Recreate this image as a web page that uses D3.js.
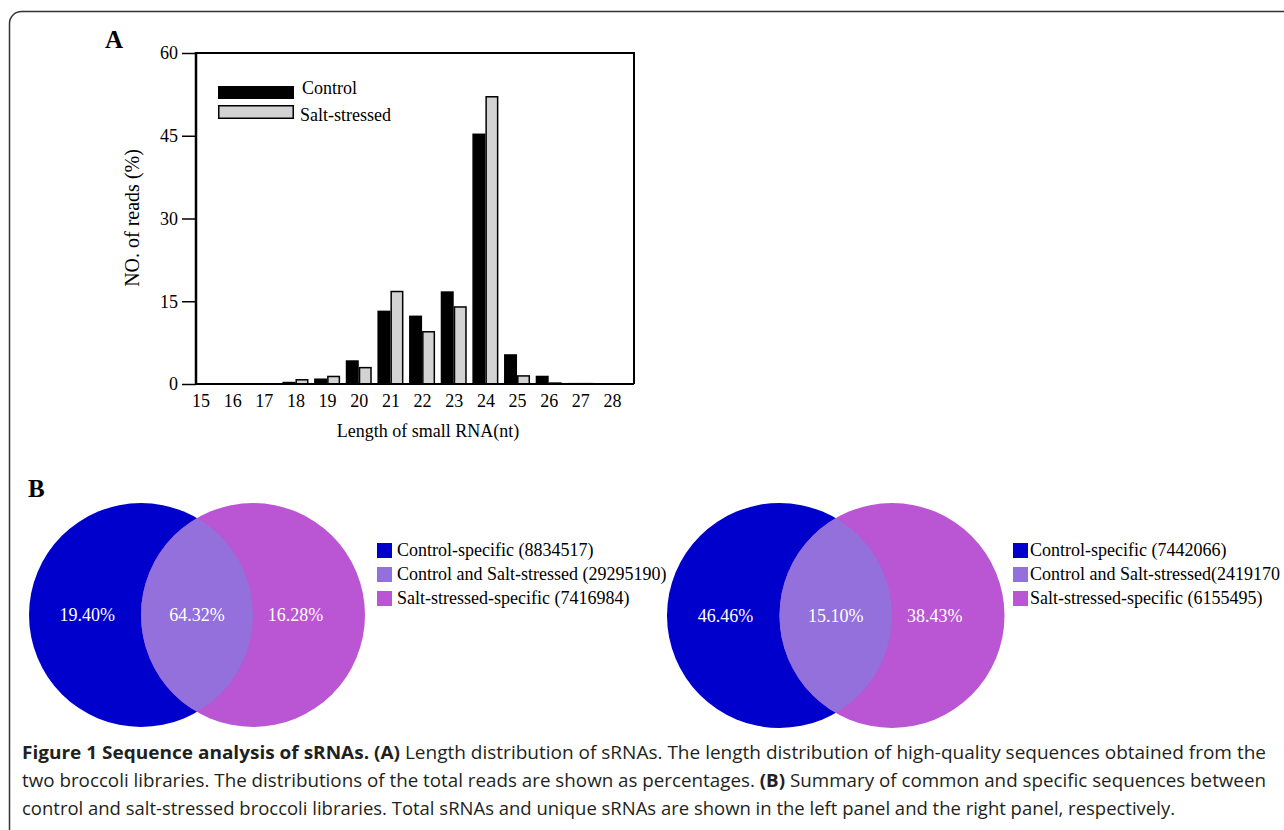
<!DOCTYPE html>
<html>
<head>
<meta charset="utf-8">
<script src="https://cdn.jsdelivr.net/npm/d3@7/dist/d3.min.js"></script>
<style>
  body { margin: 0; background: #fff; }
  svg { display: block; }
</style>
</head>
<body>
<svg id="fig" width="1284" height="830"></svg>
<script>
// panel A data: length distribution (%)
var lengths = [15, 16, 17, 18, 19, 20, 21, 22, 23, 24, 25, 26, 27, 28];
var controlPct = [0, 0, 0.1, 0.4, 1.0, 4.3, 13.3, 12.4, 16.8, 45.4, 5.4, 1.5, 0.2, 0.1];
var saltPct = [0, 0, 0.05, 0.9, 1.5, 3.1, 16.9, 9.6, 14.1, 52.2, 1.6, 0.3, 0.2, 0];
var yTicks = [0, 15, 30, 45, 60];
var seriesNames = ["Control", "Salt-stressed"];

// panel B data: venn percentages (control only, shared, salt only)
var vennTotalPct = ["19.40%", "64.32%", "16.28%"];
var vennUniquePct = ["46.46%", "15.10%", "38.43%"];
var legendTotal = ["Control-specific (8834517)", "Control and Salt-stressed (29295190)", "Salt-stressed-specific (7416984)"];
var legendUnique = ["Control-specific (7442066)", "Control and Salt-stressed(2419170", "Salt-stressed-specific (6155495)"];
var vennColors = ["#0000cd", "#9370db", "#ba55d3"];

var serif = "'Liberation Serif', 'Times New Roman', serif";
var svg = d3.select("#fig");

// rounded frame
svg.append("rect")
  .attr("x", 9.5).attr("y", 11.5)
  .attr("width", 1320).attr("height", 830)
  .attr("rx", 12)
  .attr("fill", "none")
  .attr("stroke", "#333")
  .attr("stroke-width", 1.5);

//----- panel A -----
var x = d3.scaleLinear().domain([15, 28]).range([200.5, 612]);
var y = d3.scaleLinear().domain([0, 60]).range([384, 53]);
var barW = 13;

svg.append("text")
  .attr("x", 105).attr("y", 48)
  .style("font-family", serif).style("font-weight", "bold").style("font-size", "25px")
  .text("A");

var chart = svg.append("g");

// black bars
chart.selectAll("rect.ctl")
  .data(lengths)
  .enter()
  .append("rect")
  .attr("class", "ctl")
  .attr("x", function(d){ return x(d) - barW; })
  .attr("y", function(d, i){ return y(controlPct[i]); })
  .attr("width", barW)
  .attr("height", function(d, i){ return y(0) - y(controlPct[i]); })
  .attr("fill", "#000");

// grey bars
chart.selectAll("rect.salt")
  .data(lengths)
  .enter()
  .filter(function(d, i){ return saltPct[i] > 0; })
  .append("rect")
  .attr("class", "salt")
  .attr("x", function(d){ return x(d) + 0.75; })
  .attr("y", function(d){ return y(saltPct[lengths.indexOf(d)]) + 0.75; })
  .attr("width", barW - 1.5)
  .attr("height", function(d){ return Math.max(0, y(0) - y(saltPct[lengths.indexOf(d)]) - 0.75); })
  .attr("fill", "#d3d3d3")
  .attr("stroke", "#000")
  .attr("stroke-width", 1.5);

// box
chart.append("path")
  .attr("d", "M196,53 H634 V384")
  .attr("fill", "none").attr("stroke", "#000").attr("stroke-width", 2);
chart.append("line")
  .attr("x1", 196).attr("x2", 634).attr("y1", 384).attr("y2", 384)
  .attr("stroke", "#000").attr("stroke-width", 2);
chart.append("line")
  .attr("x1", 196).attr("x2", 196).attr("y1", 52).attr("y2", 385)
  .attr("stroke", "#000").attr("stroke-width", 2.5);

var yAxis = d3.axisLeft(y).tickValues(yTicks).tickSize(14).tickPadding(4);
var gy = chart.append("g").attr("transform", "translate(196,0)").call(yAxis);
gy.select(".domain").remove();
gy.selectAll("line").attr("stroke-width", 1.5);
gy.selectAll("text").style("font-family", serif).style("font-size", "18px").attr("fill", "#000");

var xAxis = d3.axisBottom(x).tickValues(lengths).tickSize(0).tickPadding(10).tickFormat(d3.format("d"));
var gx = chart.append("g").attr("transform", "translate(0,384)").call(xAxis);
gx.select(".domain").remove();
gx.selectAll("text").style("font-family", serif).style("font-size", "18px").attr("fill", "#000");

chart.append("text")
  .attr("x", 428).attr("y", 437)
  .attr("text-anchor", "middle")
  .style("font-family", serif).style("font-size", "18px")
  .text("Length of small RNA(nt)");

chart.append("text")
  .attr("transform", "translate(139,218) rotate(-90)")
  .attr("text-anchor", "middle")
  .style("font-family", serif).style("font-size", "20px")
  .text("NO. of reads (%)");

// legend
var leg = chart.selectAll("g.leg")
  .data(seriesNames)
  .enter()
  .append("g")
  .attr("class", "leg")
  .attr("transform", function(d, i){ return "translate(218," + (86 + i * 19) + ")"; });
leg.append("rect")
  .attr("x", function(d, i){ return i ? 0.75 : 0; })
  .attr("y", function(d, i){ return i ? 0.75 : 0; })
  .attr("width", function(d, i){ return i ? 74.5 : 76; })
  .attr("height", function(d, i){ return i ? 12.5 : 13; })
  .attr("fill", function(d, i){ return i ? "#d3d3d3" : "#000"; })
  .attr("stroke", "#000")
  .attr("stroke-width", function(d, i){ return i ? 1.5 : 0; });
leg.append("text")
  .attr("x", function(d, i){ return i ? 82 : 84; })
  .attr("y", function(d, i){ return i ? 16 : 8; })
  .style("font-family", serif).style("font-size", "18px")
  .text(function(d){ return d; });

//----- panel B -----
svg.append("text")
  .attr("x", 28).attr("y", 497)
  .style("font-family", serif).style("font-weight", "bold").style("font-size", "25px")
  .text("B");

var defs = svg.append("defs");

function drawVenn(id, cx, cy, r, pcts, labels, legX) {
  var g = svg.append("g");
  var setX = d3.scaleLinear().domain([0, 1]).range([cx, cx + r]);

  defs.append("clipPath").attr("id", id)
    .append("circle").attr("cx", setX(0)).attr("cy", cy).attr("r", r);

  g.append("circle").attr("cx", setX(0)).attr("cy", cy).attr("r", r).attr("fill", vennColors[0]);
  g.append("circle").attr("cx", setX(1)).attr("cy", cy).attr("r", r).attr("fill", vennColors[2]);
  g.append("circle").attr("cx", setX(1)).attr("cy", cy).attr("r", r)
    .attr("fill", vennColors[1]).attr("clip-path", "url(#" + id + ")");

  // label spots: left lune, lens, right lune
  var labelX = d3.scaleLinear().domain([0, 2]).range([setX(0) - r * 0.48, setX(1) + r * 0.38]);
  g.selectAll("text.pct")
    .data(pcts)
    .enter()
    .append("text")
    .attr("class", "pct")
    .attr("x", function(d, i){ return i == 1 ? (setX(0) + setX(1)) / 2 : labelX(i); })
    .attr("y", cy + 6)
    .attr("text-anchor", "middle")
    .attr("fill", "#fff")
    .style("font-family", serif).style("font-size", "18px")
    .text(function(d){ return d; });

  var lg = g.selectAll("g.vleg")
    .data(labels)
    .enter()
    .append("g")
    .attr("class", "vleg")
    .attr("transform", function(d, i){ return "translate(" + legX + "," + (543 + i * 24) + ")"; });
  lg.append("rect")
    .attr("width", 15).attr("height", 15)
    .attr("fill", function(d, i){ return vennColors[i]; });
  lg.append("text")
    .attr("x", legX > 900 ? 17 : 20).attr("y", 13)
    .style("font-family", serif).style("font-size", "18px")
    .text(function(d){ return d; });
}

drawVenn("clipL", 141, 615, 112, vennTotalPct, legendTotal, 377);
drawVenn("clipR", 779.5, 615.5, 112.5, vennUniquePct, legendUnique, 1013);

//----- caption -----
var sans = "'Open Sans', 'Noto Sans', sans-serif";
var capLines = [
  [["Figure 1 Sequence analysis of sRNAs. ", true], ["(A)", true], [" Length distribution of sRNAs. The length distribution of high-quality sequences obtained from the", false]],
  [["two broccoli libraries. The distributions of the total reads are shown as percentages. ", false], ["(B)", true], [" Summary of common and specific sequences between", false]],
  [["control and salt-stressed broccoli libraries. Total sRNAs and unique sRNAs are shown in the left panel and the right panel, respectively.", false]]
];
var capWidths = [1244, 1244, 1153];

var cap = svg.selectAll("text.cap")
  .data(capLines)
  .enter()
  .append("text")
  .attr("class", "cap")
  .attr("x", 22)
  .attr("y", function(d, i){ return 759 + i * 28; })
  .attr("fill", "#231f20")
  .attr("textLength", function(d, i){ return capWidths[i]; })
  .attr("lengthAdjust", "spacingAndGlyphs")
  .style("font-family", sans).style("font-size", "18.5px");
cap.selectAll("tspan")
  .data(function(d){ return d; })
  .enter()
  .append("tspan")
  .style("font-weight", function(d){ return d[1] ? "bold" : "normal"; })
  .text(function(d){ return d[0]; });
</script>
</body>
</html>
